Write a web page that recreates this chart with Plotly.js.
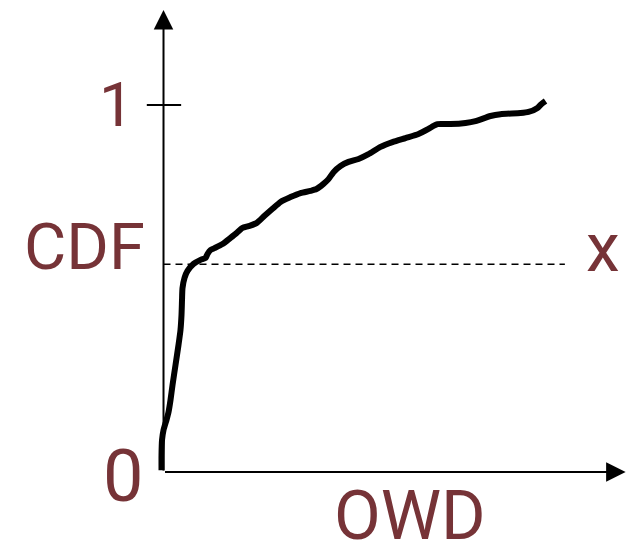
<!DOCTYPE html>
<html>
<head>
<meta charset="utf-8">
<script src="https://cdn.plot.ly/plotly-3.0.1.min.js"></script>
<style>html,body{margin:0;padding:0;background:#fff;}#chart{width:639px;height:544px;}</style>
</head>
<body>
<div id="chart"></div>
<script>
// CDF curve of OWD (arbitrary OWD units, CDF 0..1)
var owd = [-0.43, -0.43, -0.32, 0, 0.65, 1.08, 1.51, 1.94, 2.59, 3.23, 3.66, 3.88, 3.99, 4.09, 4.53, 5.17, 6.47, 7.97, 9.05, 9.48, 10.13, 10.99, 12.72, 14.44, 15.73, 17.03, 18.32, 20.04, 21.77, 23.49, 25.22, 27.37, 29.53, 31.68, 32.97, 34.48, 35.56, 36.64, 38.15, 39.87, 42.03, 44.18, 46.77, 49.35, 52.16, 54.96, 57.11, 58.19, 59.05, 61.85, 65.09, 67.24, 70.47, 72.63, 76.94, 78.66, 80.60, 81.47, 82.33];
var cdf = [0.005, 0.046, 0.087, 0.114, 0.142, 0.163, 0.196, 0.237, 0.292, 0.346, 0.387, 0.428, 0.469, 0.501, 0.529, 0.548, 0.567, 0.578, 0.583, 0.594, 0.605, 0.610, 0.621, 0.638, 0.651, 0.665, 0.670, 0.678, 0.698, 0.717, 0.736, 0.749, 0.760, 0.766, 0.771, 0.785, 0.798, 0.817, 0.834, 0.845, 0.853, 0.866, 0.886, 0.899, 0.910, 0.921, 0.935, 0.943, 0.948, 0.948, 0.951, 0.956, 0.970, 0.975, 0.978, 0.981, 0.992, 1.003, 1.011];
var thresholdCdf = 0.566;   // level of the dashed "x" line
var thresholdEnd = 86.5;    // OWD where dashed line ends
var yTickVals = [0, 1];
var yTickText = ['0', '1'];
var xAxisLabel = 'OWD';
var yAxisLabel = 'CDF';
var thresholdLabel = 'x';

var labelColor = '#763337';
var fontFam = 'Roboto, "Liberation Sans", sans-serif';

var traces = [
  {x: owd, y: cdf, type: 'scatter', mode: 'lines',
   line: {color: '#000', width: 6, shape: 'spline', smoothing: 0.6},
   hoverinfo: 'skip', showlegend: false},
  {x: [0, thresholdEnd], y: [thresholdCdf, thresholdCdf], type: 'scatter', mode: 'lines',
   line: {color: '#000', width: 1.5, dash: '7px,5px'}, hoverinfo: 'skip', showlegend: false}
];

var layout = {
  width: 639, height: 544,
  margin: {l: 0, r: 0, t: 0, b: 0},
  paper_bgcolor: '#fff', plot_bgcolor: '#fff',
  showlegend: false,
  xaxis: {range: [-35.24, 102.48], visible: false, fixedrange: true},
  yaxis: {range: [-0.1962, 1.2861], visible: false, fixedrange: true},
  shapes: [
    {type: 'line', xref: 'x', yref: 'y', x0: -3.6, x1: 3.8, y0: yTickVals[1], y1: yTickVals[1],
     line: {color: '#000', width: 2}}
  ],
  annotations: [
    // axes with arrowheads
    {xref: 'x', yref: 'y', axref: 'x', ayref: 'y', x: 99.6, y: 0, ax: 0, ay: 0, text: '',
     showarrow: true, arrowhead: 2, arrowwidth: 2, arrowsize: 1.95, arrowcolor: '#000'},
    {xref: 'x', yref: 'y', axref: 'x', ayref: 'y', x: 0, y: 1.259, ax: 0, ay: 0, text: '',
     showarrow: true, arrowhead: 2, arrowwidth: 2, arrowsize: 1.95, arrowcolor: '#000'},
    // labels
    {xref: 'paper', yref: 'paper', x: 116 / 639, y: 1 - 104 / 544, text: yTickText[1], showarrow: false,
     xanchor: 'center', yanchor: 'middle', font: {family: fontFam, size: 62, color: labelColor}},
    {xref: 'paper', yref: 'paper', x: 123 / 639, y: 1 - 476 / 544, text: yTickText[0], showarrow: false,
     xanchor: 'center', yanchor: 'middle', font: {family: fontFam, size: 72, color: labelColor}},
    {xref: 'paper', yref: 'paper', x: 84 / 639, y: 1 - 247 / 544, text: yAxisLabel, showarrow: false,
     xanchor: 'center', yanchor: 'middle', font: {family: fontFam, size: 65, color: labelColor}},
    {xref: 'paper', yref: 'paper', x: 603 / 639, y: 1 - 248 / 544, text: thresholdLabel, showarrow: false,
     xanchor: 'center', yanchor: 'middle', font: {family: fontFam, size: 68, color: labelColor}},
    {xref: 'paper', yref: 'paper', x: 410 / 639, y: 1 - 516 / 544, text: xAxisLabel, showarrow: false,
     xanchor: 'center', yanchor: 'middle', font: {family: fontFam, size: 68, color: labelColor}}
  ]
};

Plotly.newPlot('chart', traces, layout, {staticPlot: true, displayModeBar: false});
</script>
</body>
</html>
